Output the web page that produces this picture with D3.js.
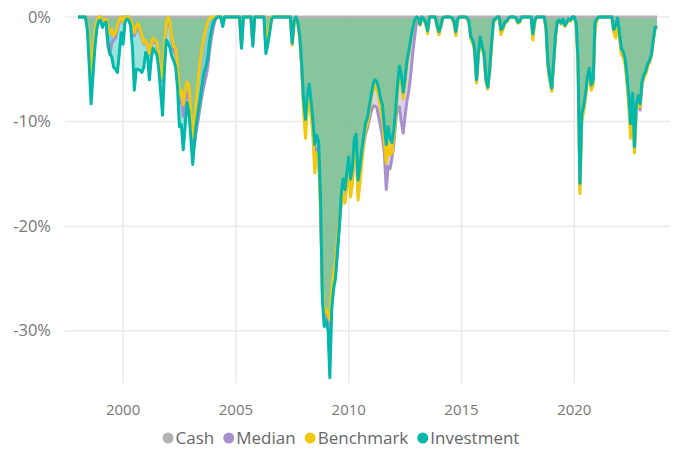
<!DOCTYPE html>
<html>
<head>
<meta charset="utf-8">
<script src="https://cdn.jsdelivr.net/npm/d3@7"></script>
<style>
  body { margin: 0; background: #fff; }
  svg { display: block; font-family: "Segoe UI", "Open Sans", sans-serif; }
</style>
</head>
<body>
<svg id="chart" width="676" height="450"></svg>
<script>
// Monthly drawdown (%) from Jan 1998
const seriesNames = ["Cash", "Median", "Benchmark", "Investment"];
const seriesColors = ["#B3B3B3", "#A791CD", "#F2C80F", "#01B8AA"];
const startYear = 1998;
const yTicks = [0, -10, -20, -30];
const xTickYears = [2000, 2005, 2010, 2015, 2020];

const cash = [
  0, 0, 0, 0, 0, 0, 0, 0, 0, 0, 0, 0, 0, 0, 0, 0, 0, 0, 0, 0,
  0, 0, 0, 0, 0, 0, 0, 0, 0, 0, 0, 0, 0, 0, 0, 0, 0, 0, 0, 0,
  0, 0, 0, 0, 0, 0, 0, 0, 0, 0, 0, 0, 0, 0, 0, 0, 0, 0, 0, 0,
  0, 0, 0, 0, 0, 0, 0, 0, 0, 0, 0, 0, 0, 0, 0, 0, 0, 0, 0, 0,
  0, 0, 0, 0, 0, 0, 0, 0, 0, 0, 0, 0, 0, 0, 0, 0, 0, 0, 0, 0,
  0, 0, 0, 0, 0, 0, 0, 0, 0, 0, 0, 0, 0, 0, 0, 0, 0, 0, 0, 0,
  0, 0, 0, 0, 0, 0, 0, 0, 0, 0, 0, 0, 0, 0, 0, 0, 0, 0, 0, 0,
  0, 0, 0, 0, 0, 0, 0, 0, 0, 0, 0, 0, 0, 0, 0, 0, 0, 0, 0, 0,
  0, 0, 0, 0, 0, 0, 0, 0, 0, 0, 0, 0, 0, 0, 0, 0, 0, 0, 0, 0,
  0, 0, 0, 0, 0, 0, 0, 0, 0, 0, 0, 0, 0, 0, 0, 0, 0, 0, 0, 0,
  0, 0, 0, 0, 0, 0, 0, 0, 0, 0, 0, 0, 0, 0, 0, 0, 0, 0, 0, 0,
  0, 0, 0, 0, 0, 0, 0, 0, 0, 0, 0, 0, 0, 0, 0, 0, 0, 0, 0, 0,
  0, 0, 0, 0, 0, 0, 0, 0, 0, 0, 0, 0, 0, 0, 0, 0, 0, 0, 0, 0,
  0, 0, 0, 0, 0, 0, 0, 0, 0, 0, 0, 0, 0, 0, 0, 0, 0, 0, 0, 0,
  0, 0, 0, 0, 0, 0, 0, 0, 0, 0, 0, 0, 0, 0, 0, 0, 0, 0, 0, 0,
  0, 0, 0, 0, 0, 0, 0, 0, 0
];

const median = [
  0, 0, 0, 0, 0, -0.8, -3.0, -6.0, -4.0, -2.0,
  -0.6, -0.2, 0, -0.8, -0.5, -0.5, -2.8, -3.6, -2.5, -2.2,
  -2.0, -1.2, -0.4, 0, -0.6, 0, 0, 0, -0.4, -1.0,
  -1.8, -1.2, -1.0, -1.5, -2.0, -2.6, -2.3, -2.8, -3.6, -2.8,
  -2.2, -2.4, -2.6, -3.8, -5.8, -6.2, -3.2, -0.9, -0.5, -1.0,
  -2.4, -3.2, -3.5, -5.3, -8.2, -8.0, -9.5, -8.0, -7.2, -7.8,
  -10.5, -13.0, -12.2, -10.8, -9.8, -8.6, -7.5, -6.6, -5.8, -4.9,
  -3.3, -2.0, -1.0, -0.3, 0, 0, 0, -0.8, 0, 0,
  0, 0, 0, 0, 0, 0, 0, -2.8, 0, 0,
  0, 0, 0, -2.6, 0, 0, 0, 0, 0, 0,
  -3.0, -2.2, -1.2, -0.1, 0, 0, 0, 0, 0, 0,
  0, 0, 0, 0, -2.5, -0.5, 0, -0.6, -2.0, -4.5,
  -8.3, -10.5, -8.3, -7.2, -8.8, -10.8, -13.5, -12.5, -13.0, -18.0,
  -26.5, -29.0, -28.5, -29.5, -30.5, -27.0, -25.5, -24.5, -22.5, -20.0,
  -18.0, -17.0, -17.5, -16.0, -14.8, -16.5, -15.8, -13.0, -12.5, -16.8,
  -15.0, -13.5, -12.2, -11.2, -10.6, -9.8, -9.0, -8.5, -8.5, -8.7,
  -9.5, -10.5, -11.5, -13.0, -16.5, -14.3, -14.5, -13.5, -12.2, -10.0,
  -8.7, -8.6, -10.0, -11.1, -9.5, -8.0, -7.0, -5.5, -3.5, -2.0,
  -0.6, -0.2, -0.5, 0, -0.2, -0.6, -1.4, 0, 0, 0,
  0, -0.9, -1.5, -0.9, -0.1, 0, 0, 0, 0, -0.1,
  -0.5, -1.6, -0.2, 0, 0, 0, 0, -0.1, -0.5, -2.0,
  -2.3, -3.1, -6.1, -3.6, -2.0, -2.9, -3.6, -6.0, -6.8, -5.1,
  -2.6, -0.4, -0.2, 0, 0, -1.4, -1.1, -0.5, -0.4, -0.1,
  0, 0, 0, -0.1, -0.5, -0.4, 0, 0, 0, 0,
  0, 0, -1.8, -0.4, 0, 0, 0, 0, 0, -1.1,
  -4.6, -5.9, -6.9, -4.4, -1.9, -0.5, -0.3, -0.6, -0.2, -0.8,
  -0.5, -0.2, -0.3, 0, 0, -0.7, -4.2, -16.2, -9.6, -8.8,
  -7.5, -5.9, -5.1, -6.8, -6.3, -1.1, -0.2, 0, 0, 0,
  0, 0, 0, 0, 0, -1.3, -0.9, -0.2, -1.7, -3.3,
  -3.5, -4.1, -5.8, -8.0, -10.8, -7.7, -12.7, -8.8, -8.0, -8.9,
  -6.5, -5.7, -5.4, -4.7, -4.3, -3.7, -2.3, -1.1, -0.9
];

const benchmark = [
  0, 0, 0, 0, 0, -0.8, -2.5, -5.5, -3.5, -1.5,
  -0.5, 0, 0, -0.6, -0.3, -0.2, -1.0, -1.6, -1.2, -1.8,
  -1.5, -0.8, -0.2, 0, -0.5, 0, 0, 0, -0.3, -0.8,
  -1.5, -0.9, -0.6, -1.2, -1.8, -2.5, -2.2, -2.7, -3.5, -2.6,
  -2.0, -2.2, -2.4, -3.5, -5.5, -5.8, -2.8, -0.5, 0, -0.6,
  -2.0, -2.8, -3.0, -4.8, -7.5, -7.0, -8.4, -7.0, -6.2, -6.5,
  -9.0, -11.5, -10.0, -7.8, -6.0, -4.2, -3.0, -2.0, -1.2, -0.5,
  -0.1, 0, 0, 0, 0, 0, 0, -0.7, 0, 0,
  0, 0, 0, 0, 0, 0, 0, -2.6, 0, 0,
  0, 0, 0, -2.5, 0, 0, 0, 0, 0, 0,
  -2.0, -1.8, -0.8, 0, 0, 0, 0, 0, 0, 0,
  0, 0, 0, 0, -2.7, -0.6, 0, -0.8, -2.2, -5.0,
  -9.0, -11.6, -9.0, -7.8, -9.5, -11.5, -14.9, -13.0, -13.5, -18.5,
  -26.0, -28.3, -28.0, -28.5, -29.0, -26.0, -24.5, -23.5, -21.5, -19.5,
  -17.8, -17.0, -17.8, -16.0, -14.5, -17.2, -16.0, -12.8, -12.2, -17.5,
  -16.0, -14.0, -12.0, -10.8, -10.2, -9.0, -7.8, -6.8, -6.5, -7.0,
  -7.6, -8.8, -9.6, -12.0, -14.0, -12.0, -13.2, -13.0, -11.5, -9.5,
  -7.2, -5.5, -6.2, -7.8, -6.4, -4.6, -3.4, -2.2, -1.2, -0.4,
  0, -0.2, -0.8, 0, -0.3, -0.7, -1.6, 0, 0, 0,
  0, -1.0, -1.7, -1.0, -0.2, 0, 0, 0, 0, -0.2,
  -0.6, -1.8, -0.3, 0, 0, 0, 0, -0.2, -0.6, -2.1,
  -2.5, -3.3, -6.3, -3.8, -2.2, -3.0, -3.8, -6.2, -6.9, -5.3,
  -2.8, -0.5, -0.3, 0, 0, -1.7, -1.2, -0.6, -0.5, -0.2,
  0, 0, 0, -0.2, -0.6, -0.5, 0, 0, 0, 0,
  0, 0, -2.2, -0.5, 0, 0, 0, 0, 0, -1.2,
  -4.8, -6.1, -7.1, -4.5, -2.0, -0.5, -0.4, -0.7, -0.3, -0.9,
  -0.6, -0.3, -0.4, 0, 0, -0.8, -4.5, -16.9, -10.0, -9.0,
  -7.8, -6.0, -5.2, -7.0, -6.5, -1.3, -0.3, 0, 0, 0,
  0, 0, 0, 0, 0, -1.5, -2.0, -0.3, -2.0, -3.6,
  -3.8, -4.5, -6.2, -8.4, -11.6, -8.0, -13.0, -9.0, -8.0, -8.6,
  -6.5, -5.8, -5.5, -4.8, -4.4, -3.8, -2.4, -1.1, -1.0
];

const investment = [
  0, 0, 0, 0, 0, -1.2, -4.5, -8.3, -5.5, -3.0,
  -1.2, -0.4, -0.3, -1.0, -0.6, -0.5, -2.5, -3.5, -3.8, -4.8,
  -5.0, -5.3, -3.5, -1.5, -2.6, -0.5, -0.2, -0.3, -0.8, -3.0,
  -7.0, -5.0, -5.0, -5.1, -5.3, -4.8, -3.4, -3.8, -6.0, -4.0,
  -3.0, -3.3, -3.6, -5.0, -7.2, -9.4, -5.0, -2.2, -2.5, -3.0,
  -3.8, -4.2, -4.8, -6.8, -10.5, -10.3, -12.7, -10.5, -8.2, -9.0,
  -11.5, -14.1, -12.0, -10.2, -9.0, -7.9, -6.6, -5.4, -4.8, -4.0,
  -2.3, -1.3, -0.5, -0.2, 0, 0, 0, -0.9, 0, 0,
  0, 0, 0, 0, 0, 0, 0, -3.0, 0, 0,
  0, 0, 0, -2.8, 0, 0, 0, 0, 0, 0,
  -3.5, -2.6, -1.5, -0.2, 0, 0, 0, 0, 0, 0,
  0, 0, 0, 0, -2.5, -0.4, 0, -0.5, -1.8, -4.5,
  -7.9, -9.8, -7.5, -6.4, -8.0, -9.9, -12.2, -11.3, -12.0, -17.2,
  -27.0, -29.6, -29.0, -30.0, -34.5, -28.0, -26.0, -25.0, -22.5, -20.2,
  -17.0, -15.5, -16.5, -14.9, -13.4, -15.5, -14.5, -11.7, -11.2, -15.6,
  -14.3, -12.7, -11.4, -10.1, -9.6, -8.5, -7.4, -6.4, -6.0, -6.2,
  -6.8, -7.8, -8.4, -10.5, -12.2, -10.5, -11.6, -12.0, -10.8, -8.8,
  -6.5, -4.7, -5.5, -7.2, -5.9, -4.2, -3.2, -2.1, -1.1, -0.3,
  0, -0.1, -0.7, 0, -0.2, -0.5, -1.3, 0, 0, 0,
  0, -0.8, -1.4, -0.8, -0.1, 0, 0, 0, 0, -0.1,
  -0.4, -1.4, -0.2, 0, 0, 0, 0, -0.1, -0.4, -1.9,
  -2.2, -3.0, -6.0, -3.5, -1.9, -2.8, -3.5, -5.9, -6.7, -5.0,
  -2.5, -0.3, -0.2, 0, 0, -1.2, -1.0, -0.5, -0.4, -0.1,
  0, 0, 0, -0.1, -0.5, -0.4, 0, 0, 0, 0,
  0, 0, -1.6, -0.3, 0, 0, 0, 0, 0, -1.0,
  -4.5, -5.8, -6.8, -4.2, -1.8, -0.4, -0.3, -0.6, -0.2, -0.8,
  -0.5, -0.2, -0.3, 0, 0, -0.6, -4.0, -15.9, -9.3, -8.5,
  -7.3, -5.7, -4.9, -6.5, -6.0, -0.5, -0.2, 0, 0, 0,
  0, 0, 0, 0, 0, -1.2, -0.8, -0.1, -1.5, -3.0,
  -3.3, -3.9, -5.5, -7.6, -10.2, -7.3, -12.4, -8.3, -7.5, -8.3,
  -6.2, -5.5, -5.2, -4.5, -4.2, -3.6, -2.2, -1.0, -0.9
];

const allSeries = [cash, median, benchmark, investment];
const months = investment.map((d, i) => new Date(startYear, i, 1));

const svg = d3.select("#chart");

// scales
const x = d3.scaleTime()
  .domain([months[0], months[months.length - 1]])
  .range([78, 657]);
const y = d3.scaleLinear()
  .domain([-35, 0])
  .range([383, 17]);

// gridlines
const grid = svg.append("g");
grid.selectAll(".hgrid")
  .data(yTicks)
  .join("line")
  .attr("x1", 65).attr("x2", 670)
  .attr("y1", d => y(d)).attr("y2", d => y(d))
  .attr("stroke", "#EAEAEA").attr("stroke-width", 1.5);
grid.selectAll(".vgrid")
  .data(xTickYears)
  .join("line")
  .attr("x1", d => x(new Date(d, 0, 1))).attr("x2", d => x(new Date(d, 0, 1)))
  .attr("y1", 17).attr("y2", 383)
  .attr("stroke", "#EAEAEA").attr("stroke-width", 1.5);

// axis labels
svg.append("g").selectAll("text")
  .data(yTicks)
  .join("text")
  .attr("x", 51)
  .attr("y", d => y(d))
  .attr("dy", "0.35em")
  .attr("text-anchor", "end")
  .attr("font-size", 16.5)
  .attr("fill", "#777")
  .text(d => d + "%");

svg.append("g").selectAll("text")
  .data(xTickYears)
  .join("text")
  .attr("x", d => x(new Date(d, 0, 1)))
  .attr("y", 410)
  .attr("dy", "0.35em")
  .attr("text-anchor", "middle")
  .attr("font-size", 15)
  .attr("fill", "#777")
  .text(d => d);

// areas first, then lines on top
const area = d3.area()
  .x((d, i) => x(months[i]))
  .y0(y(0))
  .y1(d => y(d));
const line = d3.line()
  .x((d, i) => x(months[i]))
  .y(d => y(d));

svg.append("g").selectAll("path")
  .data(allSeries)
  .join("path")
  .attr("d", area)
  .attr("fill", (d, i) => seriesColors[i])
  .attr("fill-opacity", 0.4);

svg.append("g").selectAll("path")
  .data(allSeries)
  .join("path")
  .attr("d", line)
  .attr("fill", "none")
  .attr("stroke", (d, i) => seriesColors[i])
  .attr("stroke-width", 3)
  .attr("stroke-linejoin", "round");

// legend
const legend = svg.append("g");
let lx = 0;
seriesNames.forEach((name, i) => {
  const g = legend.append("g").attr("transform", `translate(${lx},0)`);
  g.append("circle")
    .attr("cx", 5.5).attr("cy", 0).attr("r", 5.5)
    .attr("fill", seriesColors[i]);
  const t = g.append("text")
    .attr("x", 13).attr("dy", "0.35em")
    .attr("font-size", 17)
    .attr("fill", "#666")
    .text(name);
  lx += 13 + t.node().getComputedTextLength() + 9;
});
legend.attr("transform", `translate(${341 - (lx - 9) / 2},438)`);
</script>
</body>
</html>
